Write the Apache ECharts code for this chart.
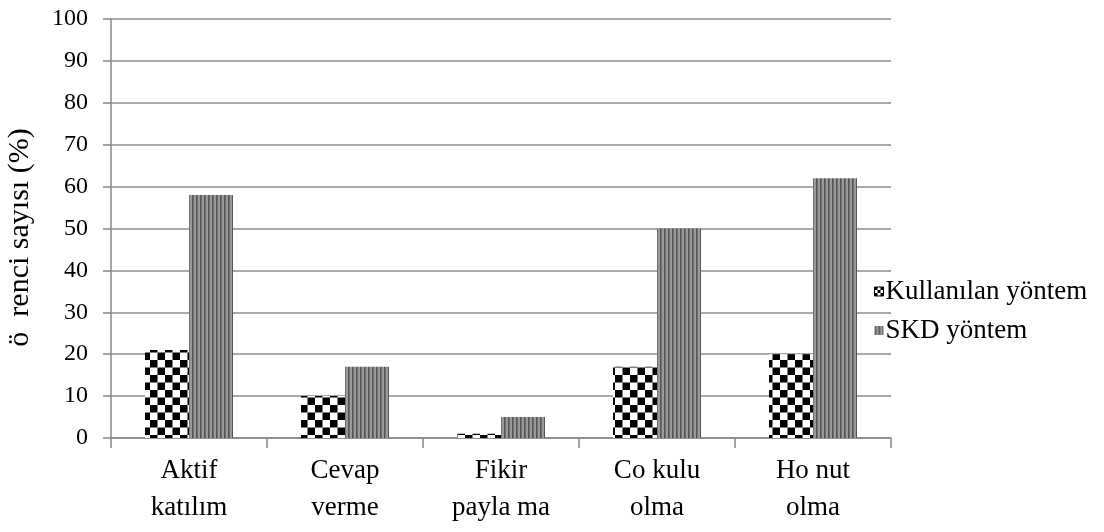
<!DOCTYPE html>
<html>
<head>
<meta charset="utf-8">
<script src="https://cdn.jsdelivr.net/npm/echarts@6/dist/echarts.min.js"></script>
<style>html,body{margin:0;padding:0;background:#fff}#c{width:1104px;height:532px}</style>
</head>
<body>
<div id="c"></div>
<script>
const categories = ["Aktif\nkatılım", "Cevap\nverme", "Fikir\npayla ma", "Co kulu\nolma", "Ho nut\nolma"];
const seriesNames = ["Kullanılan yöntem", "SKD yöntem"];
const kullanilan = [21, 10, 1, 17, 20];
const skd = [58, 17, 5, 50, 62];
const yTicks = [0, 10, 20, 30, 40, 50, 60, 70, 80, 90, 100];

function checker(s) {
  const c = document.createElement('canvas');
  c.width = 2 * s; c.height = 2 * s;
  const g = c.getContext('2d');
  g.fillStyle = '#fff'; g.fillRect(0, 0, 2 * s, 2 * s);
  g.fillStyle = '#000';
  g.fillRect(0, 0, s, s);
  g.fillRect(s, s, s, s);
  return c;
}
function stripes() {
  const c = document.createElement('canvas');
  c.width = 4; c.height = 4;
  const g = c.getContext('2d');
  g.fillStyle = '#9a9a9a'; g.fillRect(0, 0, 4, 4);
  g.fillStyle = '#555'; g.fillRect(0, 0, 1.6, 4);
  return c;
}
const font = '"Liberation Serif", "Times New Roman", serif';
const chart = echarts.init(document.getElementById('c'), null, {renderer: 'canvas'});
chart.setOption({
  animation: false,
  textStyle: {fontFamily: font},
  grid: {left: 111, right: 213, top: 19, bottom: 94, containLabel: false, outerBoundsMode: 'none'},
  legend: {
    orient: 'vertical', left: 869, top: 273, itemGap: 12,
    itemWidth: 9, itemHeight: 9, icon: 'rect',
    textStyle: {fontFamily: font, fontSize: 27, color: '#000', padding: [0, 0, 0, -3]},
    data: [
      {name: seriesNames[0], itemStyle: {color: {image: checker(3), repeat: 'repeat'}, borderColor: '#000', borderWidth: 1}},
      {name: seriesNames[1]}
    ]
  },
  xAxis: {
    type: 'category', data: categories,
    axisLine: {lineStyle: {color: '#888', width: 1.5}},
    axisTick: {show: true, length: 10, lineStyle: {color: '#888', width: 1.5}},
    axisLabel: {fontFamily: font, fontSize: 27, color: '#000', lineHeight: 37, margin: 14, interval: 0}
  },
  yAxis: {
    type: 'value', min: 0, max: 100, interval: 10,
    name: 'ö  renci sayısı (%)', nameLocation: 'middle', nameGap: 76, nameRotate: 90,
    nameTextStyle: {fontFamily: font, fontSize: 30, color: '#000', padding: [0, 18, 0, 0]},
    axisLine: {show: true, lineStyle: {color: '#888', width: 1.5}},
    axisTick: {show: true, length: 8, lineStyle: {color: '#888', width: 1.5}},
    axisLabel: {fontFamily: font, fontSize: 24, color: '#000', margin: 23,
      formatter: v => yTicks.includes(v) ? String(v) : ''},
    splitLine: {lineStyle: {color: '#8c8c8c', width: 1.5}}
  },
  series: [
    {name: seriesNames[0], type: 'bar', data: kullanilan, barWidth: 44, barGap: '0%',
     itemStyle: {color: {image: checker(7.5), repeat: 'repeat'}}},
    {name: seriesNames[1], type: 'bar', data: skd, barWidth: 44, barGap: '0%',
     itemStyle: {color: {image: stripes(), repeat: 'repeat'}}}
  ]
});
</script>
</body>
</html>
